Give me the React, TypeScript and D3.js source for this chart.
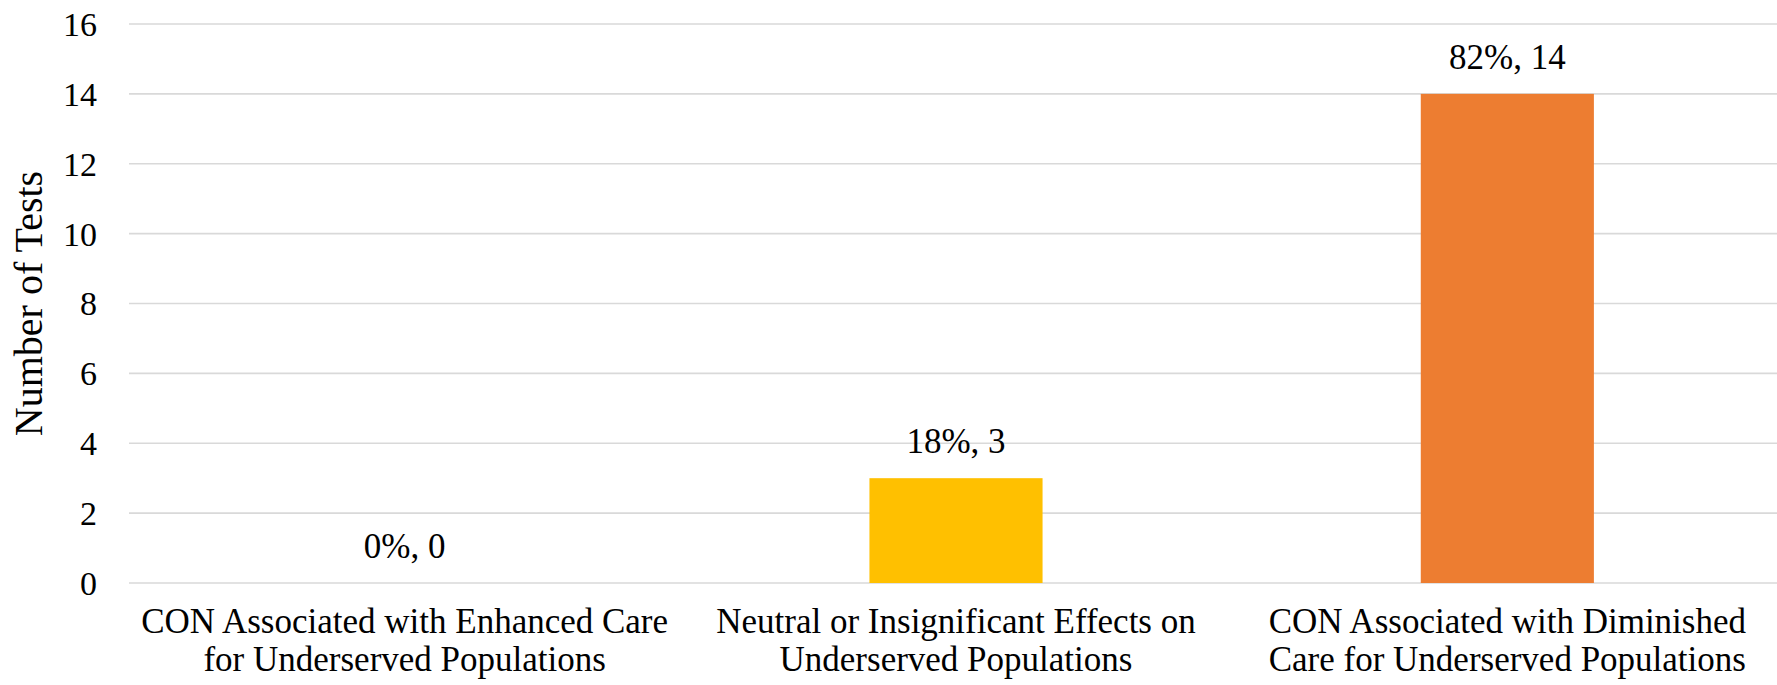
import React from "react";
import * as d3 from "d3";

// Outcome categories (each label split into its two display lines)
const categories = [
  "CON Associated with Enhanced Care for Underserved Populations",
  "Neutral or Insignificant Effects on Underserved Populations",
  "CON Associated with Diminished Care for Underserved Populations",
];
const categoryLines = [
  ["CON Associated with Enhanced Care", "for Underserved Populations"],
  ["Neutral or Insignificant Effects on", "Underserved Populations"],
  ["CON Associated with Diminished", "Care for Underserved Populations"],
];
const testCounts = [0, 3, 14];
const sharePercents = [0, 18, 82];
const barColors = ["#4472C4", "#FFC000", "#ED7D31"];
const yTicks = [0, 2, 4, 6, 8, 10, 12, 14, 16];

const W = 1777;
const H = 685;
const FONT = "'Liberation Serif', 'Times New Roman', Times, serif";

export default function App() {
  const x = d3
    .scaleBand<string>()
    .domain(categories)
    .range([129, 1783])
    .paddingInner(0.686)
    .paddingOuter(0.343);
  const y = d3.scaleLinear().domain([0, 16]).range([583, 24]);
  const cx = (c: string) => (x(c) as number) + x.bandwidth() / 2;

  return (
    <svg
      width={W}
      height={H}
      style={{ position: "absolute", left: 0, top: 0, background: "#fff" }}
      fontFamily={FONT}
    >
      {/* horizontal gridlines */}
      {yTicks.map((t) => (
        <line
          key={"g" + t}
          x1={129}
          x2={W}
          y1={y(t)}
          y2={y(t)}
          stroke="#d9d9d9"
          strokeWidth={1.6}
        />
      ))}
      {/* y tick labels */}
      {yTicks.map((t) => (
        <text
          key={"t" + t}
          x={97}
          y={y(t)}
          dy="0.35em"
          textAnchor="end"
          fontSize={34}
          fill="#000"
        >
          {t}
        </text>
      ))}
      {/* y axis title */}
      <text
        transform={`translate(42,${(y(0) + y(16)) / 2}) rotate(-90)`}
        textAnchor="middle"
        fontSize={40}
        fill="#000"
      >
        Number of Tests
      </text>
      {/* bars */}
      {categories.map((c, i) => (
        <rect
          key={"b" + i}
          x={x(c)}
          y={y(testCounts[i])}
          width={x.bandwidth()}
          height={y(0) - y(testCounts[i])}
          fill={barColors[i]}
        />
      ))}
      {/* value labels */}
      {categories.map((c, i) => (
        <text
          key={"v" + i}
          x={cx(c)}
          y={y(testCounts[i]) - 25}
          textAnchor="middle"
          fontSize={35}
          fill="#000"
        >
          {`${sharePercents[i]}%, ${testCounts[i]}`}
        </text>
      ))}
      {/* category labels */}
      {categories.map((c, i) => (
        <text
          key={"c" + i}
          x={cx(c)}
          y={633}
          textAnchor="middle"
          fontSize={35}
          fill="#000"
        >
          {categoryLines[i].map((line, j) => (
            <tspan key={j} x={cx(c)} dy={j === 0 ? 0 : 38}>
              {line}
            </tspan>
          ))}
        </text>
      ))}
    </svg>
  );
}
